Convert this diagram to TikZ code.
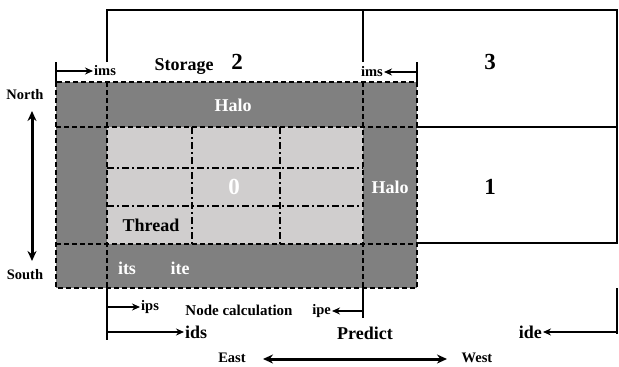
\documentclass[tikz,border=0pt]{standalone}
\usepackage{fontspec}
\setmainfont{Liberation Serif}
\usetikzlibrary{positioning, arrows.meta}
\definecolor{halogray}{RGB}{128,128,128}
\definecolor{coregray}{RGB}{208,206,206}
\tikzset{>={Stealth[length=8pt,width=7pt]},
  every node/.style={inner sep=1pt},
  big/.style={font=\fontsize{18}{20}\selectfont\bfseries},
  small/.style={font=\fontsize{14.5}{16}\selectfont\bfseries},
  num/.style={font=\fontsize{23}{24}\selectfont\bfseries},
  white text/.style={text=white},
  halo line/.style={line width=2.4pt, dash pattern=on 5pt off 3pt},
  cut line/.style={line width=1.9pt, dash pattern=on 7pt off 3pt on 2pt off 3pt},
  frame/.style={line width=2.4pt},
  dim/.style={->, line width=2pt},
  tick/.style={line width=2.2pt},
  compass/.style={<->, line width=3pt, >={Stealth[length=10pt,width=9pt]}},
}

\begin{document}
\begin{tikzpicture}[x=1pt, y=-1pt]
        \useasboundingbox (0,0) rectangle (619,367);
        % storage block
        \fill[halogray] (56,82) rectangle (417,288);
        \fill[coregray] (107,127) rectangle (363,244);
        \draw[halo line] (56,82) rectangle (417,288);
        \draw[halo line] (107,82) -- (107,288)
                         (363,82) -- (363,288)
                         (56,127) -- (417,127)
                         (56,244) -- (417,244);
        \draw[cut line] (192,127) -- (192,244)
                        (280,127) -- (280,244)
                        (107,168) -- (363,168)
                        (107,206) -- (363,206);
        % neighbour frames
        \draw[frame] (107,62) -- (107,10) -- (617,10) -- (617,243) -- (417,243);
        \draw[frame] (363,62) -- (363,10);
        \draw[frame] (417,127) -- (617,127);

        \node[big] (storage) at (184,67) {Storage};
        \node[num] (two) at (237,62) {2};
        \node[num] (three) at (490,62) {3};
        \node[num] (one) at (490,187) {1};
        \node[big, white text] (haloN) at (233,105) {Halo};
        \node[big, white text] (haloE) at (390,187) {Halo};
        \node[num, white text] (zero) at (234,187) {0};
        \node[big] (thread) at (151,225) {Thread};
        \node[big, white text] (its) at (127,268) {its};
        \node[big, white text] (ite) at (180,268) {ite};

        % memory bounds
        \coordinate (msA) at (56,62);
        \coordinate (msB) at (56,82);
        \coordinate (msC) at (56,71);
        \coordinate (meA) at (417,62);
        \coordinate (meB) at (417,82);
        \coordinate (meC) at (417,72);
        \node[small, anchor=west] (ims1) at (93,71) {ims};
        \node[small, anchor=east] (ims2) at (384,72) {ims};
        \draw[tick] (msA) -- (msB);
        \draw[tick] (meA) -- (meB);
        \draw[dim] (msC) -- (ims1.west);
        \draw[dim] (meC) -- (ims2.east);

        % north / south
        \node[small] (north) at (25,95) {North};
        \node[small] (south) at (25,275) {South};
        \coordinate (nTip) at (32,111);
        \coordinate (sTip) at (32,261);
        \draw[compass] (nTip) -- (sTip);

        % patch and domain bounds
        \coordinate (psA) at (107,288);
        \coordinate (psB) at (107,340);
        \coordinate (peA) at (363,288);
        \coordinate (peB) at (363,318);
        \coordinate (deA) at (617,288);
        \coordinate (deB) at (617,334);
        \coordinate (psC) at (107,307);
        \coordinate (dsC) at (107,332);
        \coordinate (peC) at (363,311);
        \coordinate (deC) at (617,332);
        \node[small, anchor=west] (ips) at (140,307) {ips};
        \node[big, anchor=west] (ids) at (184,332) {ids};
        \node[small, anchor=east] (ipe) at (332,311) {ipe};
        \node[big, anchor=east] (ide) at (543,332) {ide};
        \node[small, font=\fontsize{15}{16}\selectfont\bfseries] (calc) at (239,310) {Node calculation};
        \node[big] (predict) at (365,333) {Predict};
        \draw[tick] (psA) -- (psB);
        \draw[tick] (peA) -- (peB);
        \draw[tick] (deA) -- (deB);
        \draw[dim] (psC) -- (ips.west);
        \draw[dim] (dsC) -- (ids.west);
        \draw[dim] (peC) -- (ipe.east);
        \draw[dim] (deC) -- (ide.east);

        % east / west
        \node[small] (east) at (232,358) {East};
        \node[small] (west) at (477,358) {West};
        \coordinate (eTip) at (263,359);
        \coordinate (wTip) at (447,359);
        \draw[compass] (eTip) -- (wTip);
    \end{tikzpicture}
\end{document}
